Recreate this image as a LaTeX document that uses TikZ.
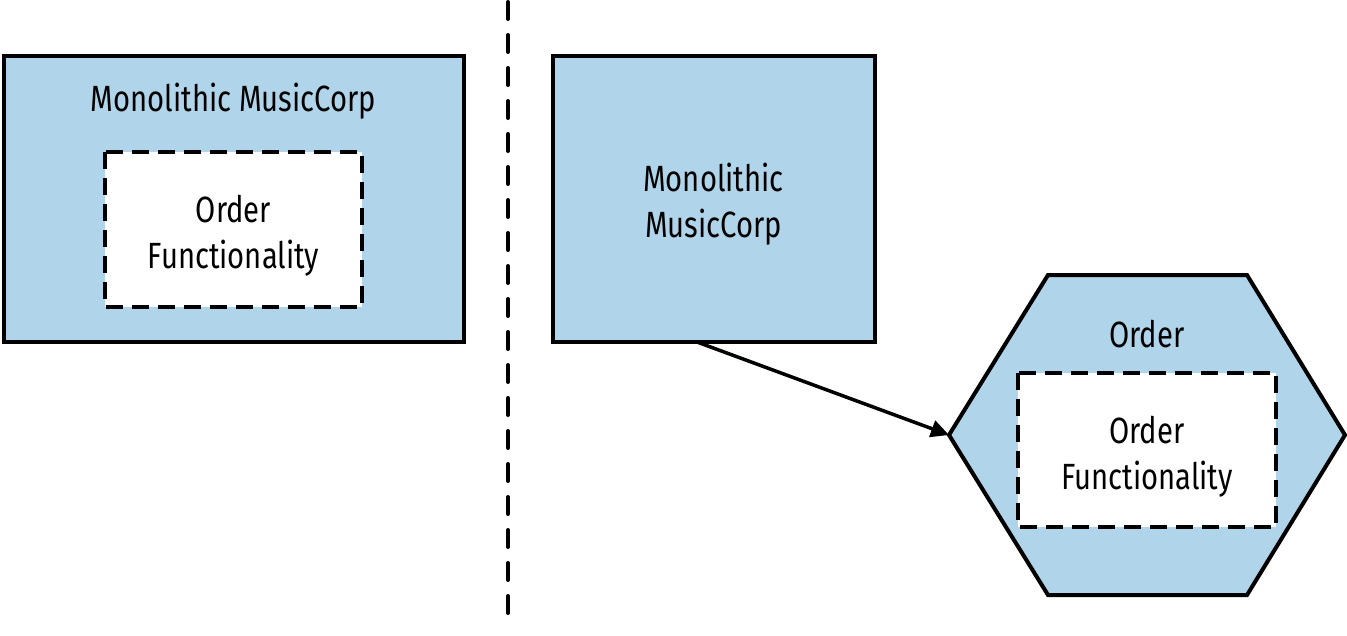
\documentclass[tikz,border=0pt]{standalone}
\usepackage{fontspec}
\setmainfont{Fira Sans}[FakeStretch=0.8]
\usetikzlibrary{arrows.meta}
\definecolor{boxblue}{RGB}{176,212,233}
\tikzset{
  box/.style={draw=black, line width=4pt, fill=boxblue, rectangle, minimum width=#1, inner sep=0pt},
  innerbox/.style={draw=black, line width=4pt, fill=white, dash pattern=on 17pt off 9pt},
  lbl/.style={font=\fontsize{36.5}{46}\selectfont, align=center, inner sep=0pt},
}
\begin{document}
\begin{tikzpicture}[x=1pt,y=-1pt]
\useasboundingbox (0,0) rectangle (1347,635);
% divider
\coordinate (dtop) at (508,2);
\coordinate (dbot) at (508,620);
\draw[line width=4pt, line cap=round, dash pattern=on 17pt off 16pt] (dtop) -- (dbot);
% left box
\node[box=460pt, minimum height=286pt] (lbox) at (233.5,198.5) {};
\node[lbl] (ltitle) at (233.5,101) {Monolithic MusicCorp};
\draw[innerbox] (105,152) rectangle (362,307);
\node[lbl] (lfunc) at (233.5,236) {Order\\Functionality};
% right box
\node[box=322pt, minimum height=286pt] (rbox) at (713.5,198.5) {};
\node[lbl] (rtitle) at (713.5,204) {Monolithic\\MusicCorp};
% hexagon
\coordinate (hexL) at (949,435);
\coordinate (hexTL) at (1048,275);
\coordinate (hexTR) at (1247,275);
\coordinate (hexR) at (1345,435);
\coordinate (hexBR) at (1247,595);
\coordinate (hexBL) at (1048,595);
\draw[line width=4pt, fill=boxblue, line join=miter] (hexL) -- (hexTL) -- (hexTR) -- (hexR) -- (hexBR) -- (hexBL) -- cycle;
\node[lbl] (htitle) at (1147,334) {Order};
\draw[innerbox] (1018,373) rectangle (1276,527);
\node[lbl] (hfunc) at (1147,457) {Order\\Functionality};
% arrow
\coordinate (astart) at (697,342);
\draw[line width=3.5pt, -{Triangle[length=18pt,width=17pt]}] (astart) -- (hexL);
\end{tikzpicture}
\end{document}
